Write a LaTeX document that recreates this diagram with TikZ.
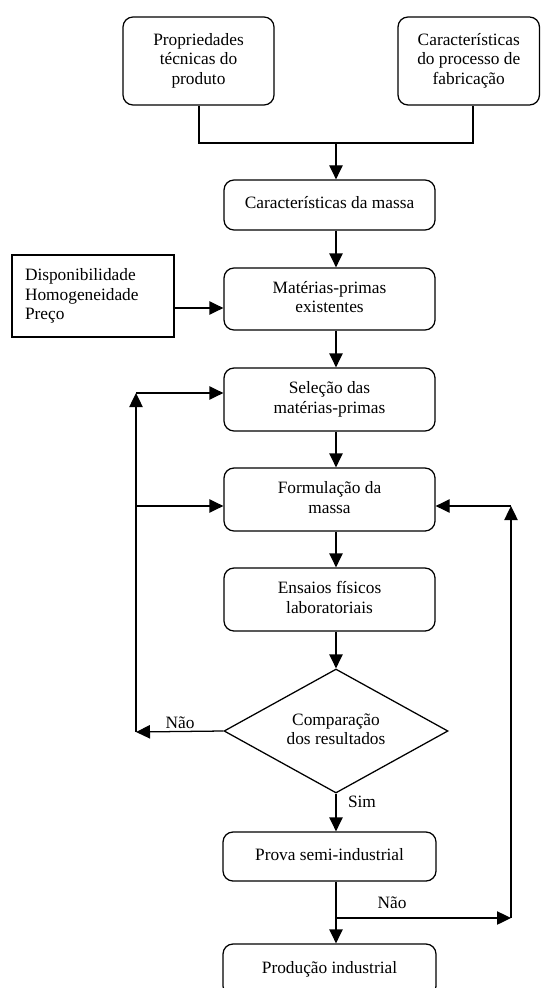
\documentclass[tikz,border=0pt]{standalone}
\usepackage{fontspec}
\setmainfont{Liberation Serif}
\usetikzlibrary{arrows.meta,shapes.geometric}
\newcommand{\bt}[2]{\raisebox{#1}{\begin{tabular}{@{}c@{}}#2\end{tabular}}}
\begin{document}
\begin{tikzpicture}[x=0.75pt,y=-0.75pt,
  every node/.style={font=\fontsize{13}{14.7}\selectfont},
  rbox/.style={draw, rounded corners=7.5pt, line width=0.95pt, inner sep=0pt},
  sbox/.style={draw, line width=0.95pt, inner xsep=9.75pt, inner ysep=0pt, align=left},
  dbox/.style={draw, diamond, aspect=1.8, line width=0.95pt, inner sep=0pt},
  arr/.style={line width=0.95pt, -{Triangle[length=10.5pt,width=10pt]}},
  ln/.style={line width=0.95pt},
  lbl/.style={inner sep=0pt}]
\useasboundingbox (0,0) rectangle (541,988);
\clip (0,0) rectangle (541,988);

\node[rbox, minimum width=113.25pt, minimum height=66pt] (b1) at (198.5,61) {\bt{3.75pt}{Propriedades\\técnicas do\\produto}};
\node[rbox, minimum width=106.1pt, minimum height=66pt] (b2) at (468.75,61) {\bt{3.75pt}{Características\\do processo de\\fabricação}};
\node[rbox, minimum width=158.25pt, minimum height=37.5pt] (b3) at (329.5,205) {\bt{4.5pt}{Características da massa}};
\node[rbox, minimum width=158.25pt, minimum height=46.5pt] (b4) at (329.5,299) {\bt{1.5pt}{Matérias-primas\\existentes}};
\node[sbox, text width=102pt, minimum height=61.5pt] (side) at (93,296) {Disponibilidade\\Homogeneidade\\Preço};
\node[rbox, minimum width=158.25pt, minimum height=47.25pt] (b5) at (329.5,399.5) {\bt{2pt}{Seleção das\\matérias-primas}};
\node[rbox, minimum width=158.25pt, minimum height=47.25pt] (b6) at (329.5,499.5) {\bt{2pt}{Formulação da\\massa}};
\node[rbox, minimum width=158.25pt, minimum height=47.25pt] (b7) at (329.5,599.5) {\bt{2pt}{Ensaios físicos\\laboratoriais}};
\node[dbox, minimum width=168pt, minimum height=93pt] (dia) at (336,731) {\bt{5.5pt}{Comparação\\dos resultados}};
\node[rbox, minimum width=159.75pt, minimum height=36.75pt] (b8) at (329.5,856.5) {\bt{1.5pt}{Prova semi-industrial}};
\node[rbox, minimum width=159.75pt, minimum height=39pt] (b9) at (329.5,970) {\bt{5pt}{Produção industrial}};

\node[lbl] (n1) at (180,723) {Não};
\node[lbl] (s1) at (362,802) {Sim};
\node[lbl] (n2) at (392,903) {Não};

\coordinate (ax) at (336,0);
\coordinate (j) at (336,143);
\coordinate (jl) at (199,143);
\coordinate (jr) at (473,143);
\coordinate (s) at (174,308);
\coordinate (L1) at (136,393);
\coordinate (L2) at (136,506);
\coordinate (L3) at (136,732);
\coordinate (R1) at (511,506);
\coordinate (R2) at (511,918);
\coordinate (B) at (336,918);

\draw[ln] (b1.south -| jl) -- (jl) -- (jr) -- (b2.south -| jr);
\draw[arr] (j) -- (b3.north -| ax);
\draw[arr] (b3.south -| ax) -- (b4.north -| ax);
\draw[arr] (side.east |- s) -- (b4.west |- s);
\draw[arr] (b4.south -| ax) -- (b5.north -| ax);
\draw[arr] (b5.south -| ax) -- (b6.north -| ax);
\draw[arr] (b6.south -| ax) -- (b7.north -| ax);
\draw[arr] (b7.south -| ax) -- (dia.north);
\draw[arr] (dia.south) -- (b8.north -| ax);
\draw[arr] (b8.south -| ax) -- (b9.north -| ax);

\draw[arr] (dia.west) -- (L3);
\draw[arr] (L3) -- (L1);
\draw[arr] (L1) -- (b5.west |- L1);
\draw[arr] (L2) -- (b6.west |- L2);

\draw[arr] (B) -- (R2);
\draw[arr] (R2) -- (R1);
\draw[arr] (R1) -- (b6.east |- R1);
\end{tikzpicture}
\end{document}
